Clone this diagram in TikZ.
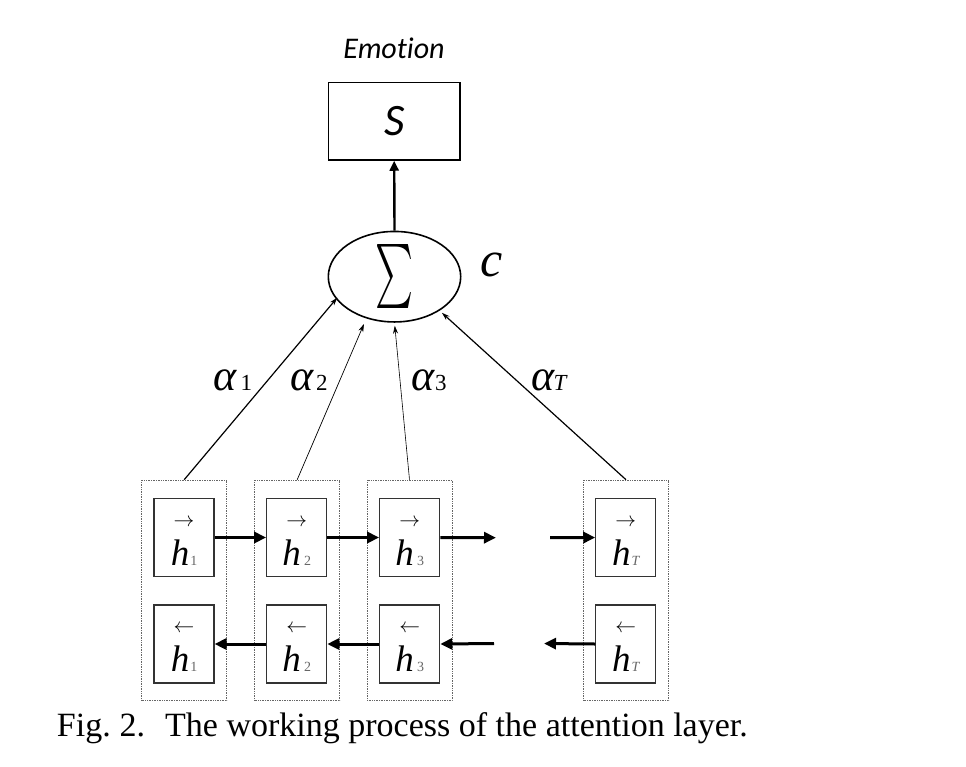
\documentclass[tikz,border=0pt]{standalone}
\usepackage{fontspec}
\usepackage{graphicx}
\setmainfont{Liberation Serif}
\newfontfamily\calib[Ligatures=NoCommon]{Carlito}
\usetikzlibrary{arrows.meta,shapes.geometric,calc}
\newcommand\hlab[2]{\smash{\makebox[0pt]{\raisebox{11.5pt}{\fontsize{20}{20}\selectfont$#1$}}\makebox[0pt]{\raisebox{-27.5pt}{\fontsize{37}{37}\selectfont\itshape h\hspace{1pt}{\fontsize{14}{14}\selectfont\color{black!60}#2}}}}}
\begin{document}
\begin{tikzpicture}[x=1pt,y=-1pt,
  outerbox/.style={draw=black!60,densely dotted,line width=0.7pt,minimum width=85pt,minimum height=220.7pt,inner sep=0pt},
  innerbox/.style={draw=black!80,line width=1.1pt,minimum width=60pt,minimum height=78pt,inner sep=0pt},
  flow/.style={line width=3pt,-{Triangle[length=12pt,width=11pt]}},
  att/.style={-{Stealth[length=8pt,width=5pt]}},
  lab/.style={inner sep=0pt,anchor=base west,font=\fontsize{44}{44}\selectfont\itshape},
  sub/.style={inner sep=0pt,anchor=base west,font=\fontsize{23}{23}\selectfont}
]
\useasboundingbox (0,0) rectangle (966,766);
% output
\node[anchor=base,inner sep=0pt,font=\calib\fontsize{30}{30}\selectfont\itshape] (emo) at (394,58.3) {Emotion};
\node[draw,line width=1.6pt,minimum width=131.7pt,minimum height=77.3pt,inner sep=0pt,font=\calib\fontsize{45}{45}\selectfont\itshape] (s) at (394.2,121.3) {S};
\node[draw,ellipse,line width=1.6pt,minimum width=132.4pt,minimum height=76.7pt,inner sep=0pt] (sum) at (394.5,276.7) {\resizebox{38pt}{48pt}{$\sum$}};
\node[inner sep=0pt,anchor=base,font=\fontsize{50}{50}\selectfont\itshape] (c) at (492,276) {c};
\draw[line width=2.4pt,-{Triangle[length=10pt,width=9pt]}] (sum.north) -- (s.south);
% columns
\node[outerbox] (g1) at (184.2,590.4) {};
\node[outerbox] (g2) at (297.2,590.4) {};
\node[outerbox] (g3) at (409.5,590.4) {};
\node[outerbox] (g4) at (626,590.4) {};
\node[innerbox] (f1) at (184,537.5) {\hlab{\rightarrow}{\upshape 1}};
\node[innerbox] (f2) at (296.7,537.5) {\hlab{\rightarrow}{\upshape\,2}};
\node[innerbox] (f3) at (409.7,537.5) {\hlab{\rightarrow}{\upshape\,3}};
\node[innerbox] (f4) at (625.8,537.5) {\hlab{\rightarrow}{T}};
\node[innerbox] (b1) at (184,644) {\hlab{\leftarrow}{\upshape 1}};
\node[innerbox] (b2) at (296.7,644) {\hlab{\leftarrow}{\upshape\,2}};
\node[innerbox] (b3) at (409.7,644) {\hlab{\leftarrow}{\upshape\,3}};
\node[innerbox] (b4) at (625.8,644) {\hlab{\leftarrow}{T}};
\coordinate (fa) at (496,537.7);
\coordinate (fb) at (550,537.7);
\coordinate (ba) at (494,643.5);
\coordinate (bb) at (544,643.5);
\draw[flow] (f1.east) -- (f2.west);
\draw[flow] (f2.east) -- (f3.west);
\draw[flow] (f3.east) -- (fa);
\draw[flow] (fb) -- (f4.west);
\draw[flow] (b2.west) -- (b1.east);
\draw[flow] (b3.west) -- (b2.east);
\draw[flow] (ba) -- (b3.east);
\draw[flow] (b4.west) -- (bb);
% attention
\draw[att,line width=1.2pt,shorten >=-2pt] (g1.north) -- (sum.201);
\draw[att,line width=0.7pt,shorten >=6pt] (g2.north) -- (sum.236);
\draw[att,line width=0.6pt,shorten >=3pt] (g3.north) -- (sum.270);
\draw[att,line width=1.2pt,shorten >=3pt] (g4.north) -- (sum.323.5);
\node[lab] (a1) at (213.3,390) {α};
\node[sub] (s1) at (240.5,390) {1};
\node[lab] (a2) at (290,390) {α};
\node[sub] (s2) at (316,390) {2};
\node[lab] (a3) at (411,390) {α};
\node[sub] (s3) at (435,390) {3};
\node[lab] (aT) at (531.7,390) {α};
\node[sub,font=\fontsize{23}{23}\selectfont\itshape] (sT) at (553.3,390) {T};
% caption
\node[inner sep=0pt,anchor=base west,font=\fontsize{34}{34}\selectfont] (cap) at (56.7,736) {Fig.\hspace{9pt}2.\hspace{20pt}The working process of the attention layer.};
\end{tikzpicture}
\end{document}
